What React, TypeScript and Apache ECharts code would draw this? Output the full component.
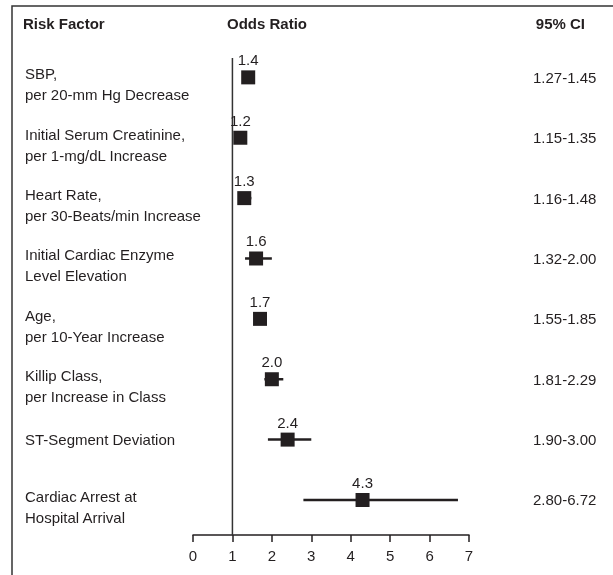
import React, { useEffect, useRef } from 'react';
import * as echarts from 'echarts';

const riskFactors = [
  'SBP,\nper 20-mm Hg Decrease',
  'Initial Serum Creatinine,\nper 1-mg/dL Increase',
  'Heart Rate,\nper 30-Beats/min Increase',
  'Initial Cardiac Enzyme\nLevel Elevation',
  'Age,\nper 10-Year Increase',
  'Killip Class,\nper Increase in Class',
  'ST-Segment Deviation',
  'Cardiac Arrest at\nHospital Arrival',
];
const oddsRatios = [1.4, 1.2, 1.3, 1.6, 1.7, 2.0, 2.4, 4.3];
const ciLow = [1.27, 1.15, 1.16, 1.32, 1.55, 1.81, 1.9, 2.8];
const ciHigh = [1.45, 1.35, 1.48, 2.0, 1.85, 2.29, 3.0, 6.72];
const headers = ['Risk Factor', 'Odds Ratio', '95% CI'];

const FONT = '"Liberation Sans", Arial, Helvetica, sans-serif';
const INK = '#231f20';
const TEXT = '#231f20';

export default function App() {
  const ref = useRef<HTMLDivElement>(null);
  useEffect(() => {
    const chart = echarts.init(ref.current!, null, { renderer: 'svg' });
    const rowLabel = (v: number) => {
      const i = Math.round(v);
      if (Math.abs(v - i) > 1e-6 || i < 0 || i >= riskFactors.length) return '';
      const t = riskFactors[i];
      return t.includes('\n') ? `{two|${t}}` : `{one|${t}}`;
    };
    const ciLabel = (v: number) => {
      const i = Math.round(v);
      if (Math.abs(v - i) > 1e-6 || i < 0 || i >= ciLow.length) return '';
      return `${ciLow[i].toFixed(2)}-${ciHigh[i].toFixed(2)}`;
    };
    const yCommon = {
      type: 'value',
      inverse: true,
      min: -1,
      max: 7.58,
      interval: 1,
      axisLine: { show: false },
      axisTick: { show: false },
      splitLine: { show: false },
    };
    chart.setOption({
      animation: false,
      textStyle: { fontFamily: FONT, color: TEXT },
      grid: { left: 193, right: 144, top: 17, bottom: 40 },
      xAxis: {
        type: 'value',
        min: 0,
        max: 7,
        interval: 1,
        axisLine: { show: true, onZero: false, lineStyle: { color: INK, width: 1.5 } },
        axisTick: { show: true, length: 7, lineStyle: { color: INK, width: 1.5 } },
        axisLabel: { fontSize: 15, color: TEXT, margin: 13, fontFamily: FONT },
        splitLine: { show: false },
      },
      yAxis: [
        {
          ...yCommon,
          position: 'left',
          axisLabel: {
            formatter: rowLabel,
            align: 'left',
            margin: 168,
            showMaxLabel: false,
            fontFamily: FONT,
            rich: {
              two: { fontSize: 15, lineHeight: 21, color: TEXT, fontFamily: FONT, padding: [14, 0, 0, 0] },
              one: { fontSize: 15, lineHeight: 21, color: TEXT, fontFamily: FONT },
            },
          },
        },
        {
          ...yCommon,
          position: 'right',
          axisLabel: {
            formatter: ciLabel,
            align: 'left',
            margin: 64,
            showMaxLabel: false,
            fontSize: 15,
            color: TEXT,
            fontFamily: FONT,
          },
        },
      ],
      graphic: [
        {
          type: 'polyline',
          shape: { points: [[12, 575], [12, 6], [613, 6]] },
          style: { stroke: '#333', lineWidth: 1.5, fill: 'none' },
          silent: true,
        },
        {
          type: 'text',
          x: 23,
          y: 23,
          style: { text: headers[0], font: `bold 15px ${FONT}`, fill: TEXT, textAlign: 'left', textVerticalAlign: 'middle' },
        },
        {
          type: 'text',
          x: 267,
          y: 23,
          style: { text: headers[1], font: `bold 15px ${FONT}`, fill: TEXT, textAlign: 'center', textVerticalAlign: 'middle' },
        },
        {
          type: 'text',
          x: 585,
          y: 23,
          style: { text: headers[2], font: `bold 15px ${FONT}`, fill: TEXT, textAlign: 'right', textVerticalAlign: 'middle' },
        },
      ],
      series: [
        {
          type: 'line',
          data: [[1, -0.32], [1, 7.58]],
          symbol: 'none',
          lineStyle: { color: '#333', width: 1.5 },
          silent: true,
        },
        {
          type: 'custom',
          data: oddsRatios.map((_, i) => [i, ciLow[i], ciHigh[i]]),
          encode: { x: [1, 2], y: 0 },
          renderItem: (params: any, api: any) => {
            const i = api.value(0);
            const a = api.coord([api.value(1), i]);
            const b = api.coord([api.value(2), i]);
            return {
              type: 'line',
              shape: { x1: a[0], y1: a[1], x2: b[0], y2: b[1] },
              style: { stroke: INK, lineWidth: 2.5 },
            };
          },
          silent: true,
          z: 2,
        },
        {
          type: 'scatter',
          data: oddsRatios.map((v, i) => [v, i]),
          symbol: 'rect',
          symbolSize: 14,
          itemStyle: { color: INK, opacity: 1 },
          label: {
            show: true,
            position: 'top',
            distance: 3,
            fontSize: 15,
            color: TEXT,
            fontFamily: FONT,
            formatter: (p: any) => Number(p.value[0]).toFixed(1),
          },
          z: 5,
        },
      ],
    });
    return () => chart.dispose();
  }, []);
  return <div ref={ref} style={{ position: 'fixed', left: 0, top: 0, width: 613, height: 575 }} />;
}
